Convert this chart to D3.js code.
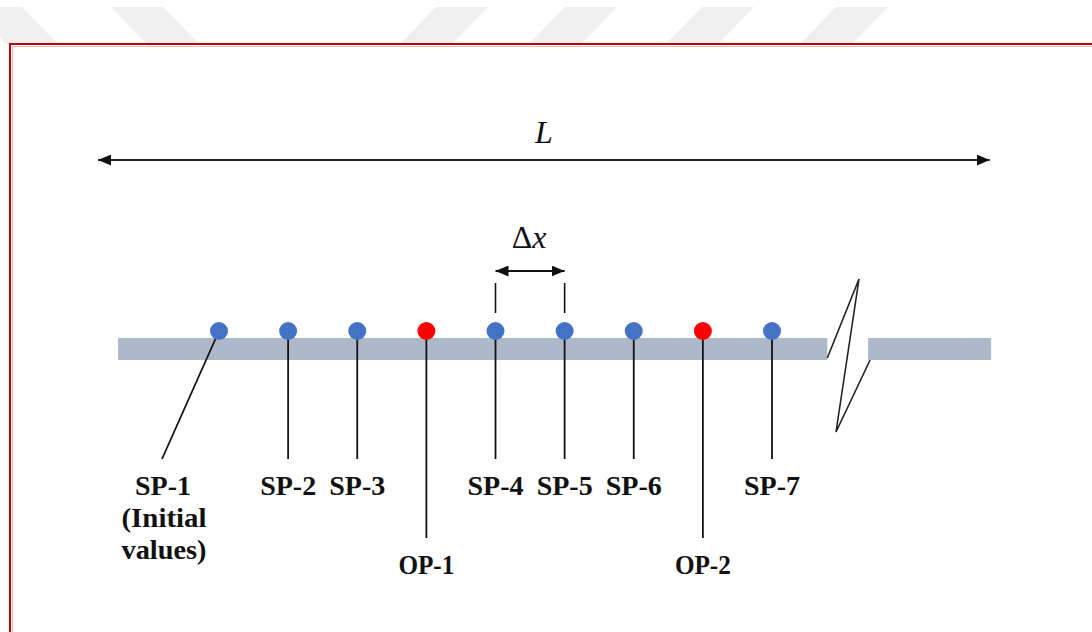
<!DOCTYPE html>
<html>
<head>
<meta charset="utf-8">
<script src="https://cdn.jsdelivr.net/npm/d3@7"></script>
<style>
  html, body { margin: 0; padding: 0; background: #fff; }
  svg { display: block; }
</style>
</head>
<body>
<div id="chart"></div>
<script>
// ---------- data ----------
const pointNames = ["SP-1", "SP-2", "SP-3", "OP-1", "SP-4", "SP-5", "SP-6", "OP-2", "SP-7"];
const pointTypes = ["SP", "SP", "SP", "OP", "SP", "SP", "SP", "OP", "SP"];
const pointIndex = [0, 1, 2, 3, 4, 5, 6, 7, 8];
const sp1Extra = ["(Initial", "values)"];
const barSegments = [[-1.46, 8.8], [9.39, 11.17]];   // in grid-step units
const lengthSpan = [-1.75, 11.15];                  // L arrow, grid-step units
const deltaSpan = [4, 5];                           // Δx between SP-4 and SP-5

// ---------- setup ----------
const W = 1092, H = 632;
const svg = d3.select("#chart").append("svg").attr("width", W).attr("height", H);

const x = d3.scaleLinear().domain([0, 8]).range([219, 772]);

// watermark stripes (decoration)
const stripeTops = [{x0: -30, d: 1}, {x0: 111, d: 1}, {x0: 436, d: -1}, {x0: 565, d: -1}, {x0: 702, d: -1}, {x0: 836, d: -1}];
svg.append("g").selectAll("polygon").data(stripeTops).join("polygon")
  .attr("points", s => {
    const w = 52, sl = 36 * s.d, y0 = 7, y1 = 44;
    return [[s.x0, y0], [s.x0 + w, y0], [s.x0 + w + sl, y1], [s.x0 + sl, y1]].map(p => p.join(",")).join(" ");
  })
  .attr("fill", "#efefef");

// red frame
svg.append("rect").attr("x", 10).attr("y", 44).attr("width", W + 20).attr("height", H + 20)
  .attr("fill", "#fff").attr("stroke", "#c00000").attr("stroke-width", 2);
svg.append("rect").attr("x", 12.5).attr("y", 46.5).attr("width", W + 20).attr("height", H + 20)
  .attr("fill", "none").attr("stroke", "#f0b8b8").attr("stroke-width", 1);

// arrow markers
const defs = svg.append("defs");
function marker(id, dir) {
  defs.append("marker").attr("id", id)
    .attr("viewBox", "0 0 13 11").attr("refX", dir > 0 ? 13 : 0).attr("refY", 5.5)
    .attr("markerWidth", 13).attr("markerHeight", 11).attr("markerUnits", "userSpaceOnUse")
    .attr("orient", "0")
    .append("path")
    .attr("d", dir > 0 ? "M0,0 L13,5.5 L0,11 Z" : "M13,0 L0,5.5 L13,11 Z")
    .attr("fill", "#111");
}
marker("arrEnd", 1);
marker("arrStart", -1);

// L arrow
const yL = 160;
svg.append("line")
  .attr("x1", x(lengthSpan[0])).attr("x2", x(lengthSpan[1]))
  .attr("y1", yL).attr("y2", yL)
  .attr("stroke", "#222").attr("stroke-width", 2.2)
  .attr("marker-start", "url(#arrStart)").attr("marker-end", "url(#arrEnd)");
svg.append("text")
  .attr("x", x((lengthSpan[0] + lengthSpan[1]) / 2)).attr("y", 143)
  .attr("text-anchor", "middle")
  .attr("font-family", "'Liberation Serif', 'DejaVu Serif', serif")
  .attr("font-style", "italic").attr("font-size", 32).attr("fill", "#111")
  .text("L");

// Δx arrow
const yD = 271;
svg.append("line")
  .attr("x1", x(deltaSpan[0])).attr("x2", x(deltaSpan[1]))
  .attr("y1", yD).attr("y2", yD)
  .attr("stroke", "#111").attr("stroke-width", 2)
  .attr("marker-start", "url(#arrStart)").attr("marker-end", "url(#arrEnd)");
svg.append("g").selectAll("line").data(deltaSpan).join("line")
  .attr("x1", d => x(d)).attr("x2", d => x(d))
  .attr("y1", 283).attr("y2", 313)
  .attr("stroke", "#111").attr("stroke-width", 1.6);
const dt = svg.append("text")
  .attr("x", x((deltaSpan[0] + deltaSpan[1]) / 2) - 1).attr("y", 248)
  .attr("text-anchor", "middle")
  .attr("font-family", "'Liberation Serif', 'DejaVu Serif', serif")
  .attr("font-size", 32).attr("fill", "#111");
dt.append("tspan").text("Δ");
dt.append("tspan").attr("font-style", "italic").text("x");

// bar
svg.append("g").selectAll("rect").data(barSegments).join("rect")
  .attr("x", d => x(d[0])).attr("width", d => x(d[1]) - x(d[0]))
  .attr("y", 338).attr("height", 22)
  .attr("fill", "#adb9ca");

// break symbol
const zig = [[x(barSegments[0][1]), 358], [859, 279], [836, 432], [x(barSegments[1][0]) + 2, 360]];
svg.append("path")
  .attr("d", d3.line()(zig))
  .attr("fill", "none").attr("stroke", "#222").attr("stroke-width", 1.6)
  .attr("stroke-linejoin", "miter");

// leader lines
const dotY = 331;
const labelBase = t => t === "OP" ? 574 : 495;
const leaderEnd = t => t === "OP" ? 538 : 459;
const pts = pointIndex.map((d, i) => ({ i: d, name: pointNames[i], type: pointTypes[i] }));

svg.append("g").selectAll("line").data(pts).join("line")
  .attr("x1", d => x(d.i)).attr("y1", dotY)
  .attr("x2", d => d.i === 0 ? x(d.i) - 57 : x(d.i))
  .attr("y2", d => leaderEnd(d.type))
  .attr("stroke", "#111").attr("stroke-width", 1.8);

// dots
svg.append("g").selectAll("circle").data(pts).join("circle")
  .attr("cx", d => x(d.i)).attr("cy", dotY).attr("r", 9)
  .attr("fill", d => d.type === "OP" ? "#ff0000" : "#4472c4");

// labels
const lblFont = "'Liberation Serif', 'Times New Roman', serif";
svg.append("g").selectAll("text").data(pts).join("text")
  .attr("x", d => d.i === 0 ? x(d.i) - 56 : x(d.i))
  .attr("y", d => labelBase(d.type))
  .attr("text-anchor", "middle")
  .attr("font-family", lblFont).attr("font-weight", "bold")
  .attr("font-size", 27).attr("fill", "#111")
  .attr("textLength", 56).attr("lengthAdjust", "spacingAndGlyphs")
  .text(d => d.name);

svg.append("g").selectAll("text").data(sp1Extra).join("text")
  .attr("x", x(0) - 55)
  .attr("y", (d, k) => 527 + k * 32)
  .attr("text-anchor", "middle")
  .attr("font-family", lblFont).attr("font-weight", "bold")
  .attr("font-size", 27).attr("fill", "#111")
  .attr("textLength", 85).attr("lengthAdjust", "spacingAndGlyphs")
  .text(d => d);
</script>
</body>
</html>
